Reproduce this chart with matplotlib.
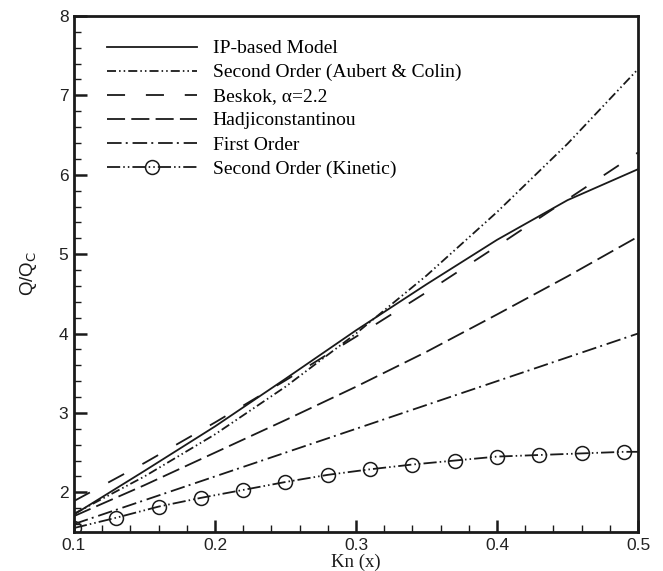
import matplotlib
matplotlib.use("Agg")
import matplotlib.pyplot as plt
from matplotlib.ticker import MultipleLocator

plt.rcParams["lines.scale_dashes"] = False

INK = "#1a1a1a"

kn = [0.10, 0.15, 0.20, 0.25, 0.30, 0.35, 0.40, 0.45, 0.50]

ip_model = [1.72, 2.27, 2.83, 3.43, 4.04, 4.62, 5.18, 5.68, 6.07]
aubert_colin = [1.73, 2.20, 2.73, 3.33, 4.00, 4.73, 5.53, 6.39, 7.33]
beskok = [1.89, 2.37, 2.88, 3.41, 3.96, 4.52, 5.10, 5.69, 6.28]
hadji = [1.70, 2.09, 2.50, 2.91, 3.33, 3.77, 4.24, 4.72, 5.22]
first_order = [1.60, 1.90, 2.20, 2.50, 2.80, 3.10, 3.40, 3.70, 4.00]

kn_kinetic = [0.10, 0.13, 0.16, 0.19, 0.22, 0.25, 0.28, 0.31, 0.34, 0.37,
              0.40, 0.43, 0.46, 0.49, 0.50]
kinetic = [1.55, 1.68, 1.82, 1.93, 2.03, 2.13, 2.22, 2.29, 2.35, 2.40,
           2.45, 2.47, 2.49, 2.51, 2.51]

labels = ["IP-based Model", "Second Order (Aubert & Colin)",
          "Beskok, α=2.2", "Hadjiconstantinou", "First Order",
          "Second Order (Kinetic)"]

fig = plt.figure(figsize=(6.63, 5.71), dpi=100)
ax = fig.add_axes([0.1116, 0.0683, 0.8507, 0.9037])

lw = 1.3
ax.plot(kn, ip_model, color=INK, lw=lw, linestyle="-", label=labels[0])
ax.plot(kn, aubert_colin, color=INK, lw=lw,
        dashes=(6.5, 2.2, 1.1, 2.2, 1.1, 2.2), label=labels[1])
ax.plot(kn, beskok, color=INK, lw=lw, dashes=(13, 15), label=labels[2])
ax.plot(kn, hadji, color=INK, lw=lw, dashes=(13, 4.5), label=labels[3])
ax.plot(kn, first_order, color=INK, lw=lw,
        dashes=(10.5, 3, 1.4, 3.5), label=labels[4])
ax.plot(kn_kinetic, kinetic, color=INK, lw=lw,
        dashes=(9.5, 2.2, 1.1, 2.2, 1.1, 2.2),
        marker="o", markersize=10, markerfacecolor="none",
        markeredgecolor=INK, markeredgewidth=1.1,
        markevery=list(range(len(kn_kinetic) - 1)), label=labels[5])

ax.set_xlim(0.1, 0.5)
ax.set_ylim(1.5, 8)
ax.xaxis.set_major_locator(MultipleLocator(0.1))
ax.xaxis.set_minor_locator(MultipleLocator(0.02))
ax.yaxis.set_major_locator(MultipleLocator(1))
ax.yaxis.set_minor_locator(MultipleLocator(0.2))

for s in ax.spines.values():
    s.set_linewidth(2)
    s.set_color(INK)
ax.tick_params(which="both", direction="in", top=False, right=False,
               color=INK, labelcolor="#222222")
ax.tick_params(which="major", length=9, width=1.8, labelsize=12.5, pad=4)
ax.tick_params(which="minor", length=5, width=1.0)
for t in ax.get_xticklabels() + ax.get_yticklabels():
    t.set_family("Liberation Sans")

ax.set_xlabel("Kn (x)", family="Liberation Serif", fontsize=13.5,
              color=INK, labelpad=0.5)
ax.set_ylabel(r"Q/Q$_\mathrm{C}$", family="Liberation Sans", fontsize=13.5,
              color=INK, labelpad=14)

leg = ax.legend(loc="upper left", bbox_to_anchor=(0.058, 0.954), frameon=False,
                prop={"family": "Liberation Serif", "size": 14},
                handlelength=4.63, handletextpad=0.82, labelspacing=0.33,
                borderaxespad=0, borderpad=0)

fig.savefig("out.png", dpi=100)
